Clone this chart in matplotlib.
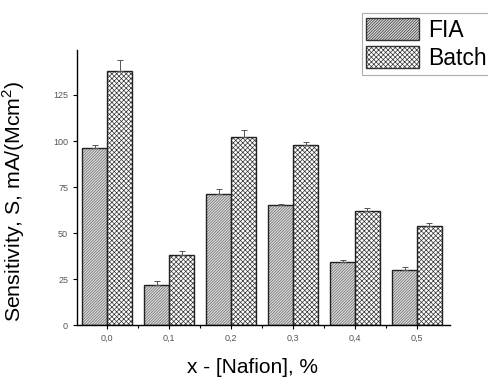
import matplotlib.pyplot as plt
import numpy as np

plt.rcParams['font.family'] = ['Liberation Sans', 'DejaVu Sans']
plt.rcParams['hatch.linewidth'] = 0.5
plt.rcParams['mathtext.fontset'] = 'custom'
plt.rcParams['mathtext.rm'] = 'Liberation Sans'

categories = ["0,0", "0,1", "0,2", "0,3", "0,4", "0,5"]
fia = [96, 22, 71, 65, 34, 30]
fia_err = [2, 2, 3, 1, 1.5, 1.5]
batch = [138, 38, 102, 98, 62, 54]
batch_err = [6, 2, 4, 1.5, 1.5, 1.5]
y_ticks = [0, 25, 50, 75, 100, 125]

fig = plt.figure(figsize=(4.88, 3.78), dpi=100)
ax = fig.add_axes([0.158, 0.140, 0.764, 0.728])

x = np.arange(len(categories))
w = 0.4
err_style = dict(ecolor="#555555", elinewidth=0.7, capsize=2.5, capthick=0.7)

# FIA: light fill with grey diagonal hatching, dark outline drawn on top
fia_bars = ax.bar(x - w / 2, fia, w, color="#dcdcdc", edgecolor="#6a6a6a", linewidth=0,
                  hatch="////////////", label="FIA",
                  yerr=[np.zeros(len(fia)), fia_err], error_kw=err_style)
ax.bar(x - w / 2, fia, w, fill=False, edgecolor="#222222", linewidth=1.0)

batch_bars = ax.bar(x + w / 2, batch, w, color="white", edgecolor="#333333", linewidth=0,
                    hatch="xxxxxxx", label="Batch",
                    yerr=[np.zeros(len(batch)), batch_err], error_kw=err_style)
ax.bar(x + w / 2, batch, w, fill=False, edgecolor="#222222", linewidth=1.0)

ax.set_xlim(-0.485, 5.53)
ax.set_ylim(0, 149.5)
ax.set_xticks(x)
ax.set_xticklabels(categories)
ax.set_xticks(x[:-1] + 0.5, minor=True)
ax.set_yticks(y_ticks)
ax.tick_params(axis="both", which="major", labelsize=6.5, labelcolor="#555555",
               direction="out", length=3, width=0.8)
ax.tick_params(axis="x", which="minor", direction="out", length=2, width=0.8)

for side in ("top", "right"):
    ax.spines[side].set_visible(False)
for side in ("left", "bottom"):
    ax.spines[side].set_linewidth(1.0)

ax.set_ylabel("Sensitivity, S, mA/(Mcm$^2$)", fontsize=15.3)
ax.yaxis.set_label_coords(-0.134, 0.45)
ax.set_xlabel("x - [Nafion], %", fontsize=15)
ax.xaxis.set_label_coords(0.47, -0.12)

leg = fig.legend(handles=[fia_bars, batch_bars], labels=["FIA", "Batch"],
                 loc="upper right", bbox_to_anchor=(1.03, 0.995), fontsize=16.5,
                 frameon=True, fancybox=False, edgecolor="#999999",
                 handlelength=2.3, handleheight=1.1, handletextpad=0.4,
                 borderpad=0.2, labelspacing=0.2)
leg.get_frame().set_linewidth(0.8)
for h in leg.legend_handles:
    h.set_edgecolor("#333333")
    h.set_linewidth(1.0)

fig.savefig("out.png", dpi=100)
